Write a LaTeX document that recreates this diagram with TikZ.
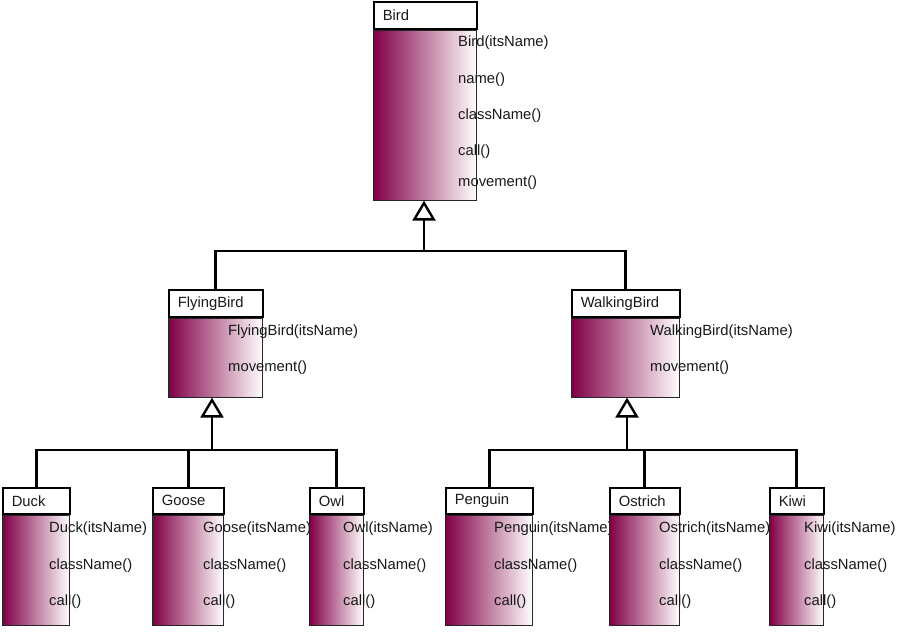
\documentclass[tikz,border=0pt]{standalone}
\usepackage{fontspec}
\setmainfont{Liberation Sans}
\usepackage{xcolor}
\usepackage{tikz}
\usetikzlibrary{arrows.meta, positioning}
\definecolor{birdpurple}{RGB}{128,0,70}
\definecolor{textgray}{RGB}{25,25,25}
\newcommand{\classfont}{\fontsize{14.8}{17}\selectfont}
\tikzstyle{classhead} = [rectangle, draw=black, line width=1.6pt, fill=white, anchor=north west, minimum height=27pt, inner xsep=9pt, inner ysep=0pt, align=left, font=\classfont, text=textgray]
\tikzstyle{classbody} = [rectangle, draw=black!85, line width=1pt, left color=birdpurple, right color=white]
\tikzstyle{method} = [anchor=west, inner sep=0pt, font=\classfont, text=textgray]
\tikzstyle{link} = [line width=2.7pt]
\tikzstyle{inherit} = [line width=2.4pt, -{Triangle[open, length=20pt, width=23pt]}]

\begin{document}
\begin{tikzpicture}[x=1pt, y=-1pt]

\fill[white] (0,0) rectangle (900,640);
\useasboundingbox (0,0) rectangle (900,640);

% ===== BASE CLASS =====
\node (bird_head) [classhead, text width=85pt] at (373,1) {Bird};
\node (bird_body) [classbody, minimum width=103pt, minimum height=170pt, below=0pt of bird_head] {};
\node (bird_m1) [method] at (458,43) {Bird(itsName)};
\node (bird_m2) [method] at (458,80) {name()};
\node (bird_m3) [method] at (458,116) {className()};
\node (bird_m4) [method] at (458,152) {call()};
\node (bird_m5) [method] at (458,183) {movement()};

% ===== MIDDLE LAYER =====
\node (flying_head) [classhead, text width=76pt] at (168,289) {FlyingBird};
\node (flying_body) [classbody, minimum width=94pt, minimum height=79pt, below=0pt of flying_head] {};
\node (flying_m1) [method] at (228,332) {FlyingBird(itsName)};
\node (flying_m2) [method] at (228,368) {movement()};

\node (walking_head) [classhead, text width=90pt] at (571,289) {WalkingBird};
\node (walking_body) [classbody, minimum width=108pt, minimum height=79pt, below=0pt of walking_head] {};
\node (walking_m1) [method] at (650,332) {WalkingBird(itsName)};
\node (walking_m2) [method] at (650,368) {movement()};

% ===== LEAF CLASSES =====
\node (duck_head) [classhead, text width=49pt, minimum height=26pt] at (2,487) {Duck};
\node (duck_body) [classbody, minimum width=67pt, minimum height=110pt, below=0pt of duck_head] {};
\node (duck_m1) [method] at (49,529) {Duck(itsName)};
\node (duck_m2) [method] at (49,566) {className()};
\node (duck_m3) [method] at (49,602) {call()};

\node (goose_head) [classhead, text width=53pt, minimum height=26pt] at (152,487) {Goose};
\node (goose_body) [classbody, minimum width=71pt, minimum height=110pt, below=0pt of goose_head] {};
\node (goose_m1) [method] at (203,529) {Goose(itsName)};
\node (goose_m2) [method] at (203,566) {className()};
\node (goose_m3) [method] at (203,602) {call()};

\node (owl_head) [classhead, text width=36pt, minimum height=26pt] at (309,487) {Owl};
\node (owl_body) [classbody, minimum width=54pt, minimum height=110pt, below=0pt of owl_head] {};
\node (owl_m1) [method] at (343,529) {Owl(itsName)};
\node (owl_m2) [method] at (343,566) {className()};
\node (owl_m3) [method] at (343,602) {call()};

\node (penguin_head) [classhead, text width=69pt, minimum height=26pt] at (445,487) {Penguin};
\node (penguin_body) [classbody, minimum width=87pt, minimum height=110pt, below=0pt of penguin_head] {};
\node (penguin_m1) [method] at (494,529) {Penguin(itsName)};
\node (penguin_m2) [method] at (494,566) {className()};
\node (penguin_m3) [method] at (494,602) {call()};

\node (ostrich_head) [classhead, text width=52pt, minimum height=26pt] at (609,487) {Ostrich};
\node (ostrich_body) [classbody, minimum width=70pt, minimum height=110pt, below=0pt of ostrich_head] {};
\node (ostrich_m1) [method] at (659,529) {Ostrich(itsName)};
\node (ostrich_m2) [method] at (659,566) {className()};
\node (ostrich_m3) [method] at (659,602) {call()};

\node (kiwi_head) [classhead, text width=36pt, minimum height=26pt] at (769,487) {Kiwi};
\node (kiwi_body) [classbody, minimum width=54pt, minimum height=110pt, below=0pt of kiwi_head] {};
\node (kiwi_m1) [method] at (804,529) {Kiwi(itsName)};
\node (kiwi_m2) [method] at (804,566) {className()};
\node (kiwi_m3) [method] at (804,602) {call()};

% ===== INHERITANCE =====
\coordinate (bird_split) at (424,251);
\coordinate (flying_split) at (212,450);
\coordinate (walking_split) at (627,450);

% Bird <- FlyingBird, WalkingBird
\draw [link] (flying_head.north) |- (bird_split) -| (walking_head.north);
\draw [inherit] (bird_split) -- (bird_split |- bird_body.south);

% FlyingBird <- Duck, Goose, Owl
\draw [link] (duck_head.north) |- (flying_split) -| (owl_head.north);
\draw [link] (goose_head.north) -- (goose_head.north |- flying_split);
\draw [inherit] (flying_split) -- (flying_split |- flying_body.south);

% WalkingBird <- Penguin, Ostrich, Kiwi
\draw [link] (penguin_head.north) |- (walking_split) -| (kiwi_head.north);
\draw [link] (ostrich_head.north) -- (ostrich_head.north |- walking_split);
\draw [inherit] (walking_split) -- (walking_split |- walking_body.south);

\end{tikzpicture}
\end{document}
